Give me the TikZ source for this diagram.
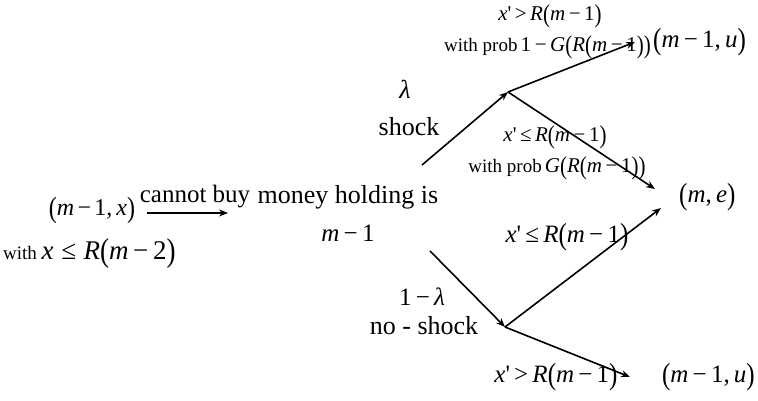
\documentclass[tikz,border=0pt]{standalone}
\usepackage{fontspec}
\usepackage{graphicx}
\setmainfont{Liberation Serif}
\usetikzlibrary{arrows.meta}
\newcommand{\V}[1]{\textit{#1}}
\newcommand{\mn}{\hspace{0.17em}−\hspace{0.17em}}
\newcommand{\LP}{\raisebox{-0.08em}{\scalebox{1}[1.22]{(}}}
\newcommand{\RP}{\raisebox{-0.08em}{\scalebox{1}[1.22]{)}}}
\newcommand{\pr}{\textquotesingle}
\newcommand{\bigfs}{\fontsize{26}{30}\selectfont}
\newcommand{\mth}{\fontsize{25}{29}\selectfont}
\newcommand{\lmth}{\fontsize{21}{25}\selectfont}
\newcommand{\sml}{\fontsize{19}{23}\selectfont}
\begin{document}
\begin{tikzpicture}[x=1pt,y=-1pt,
  txt/.style={inner sep=0pt,font=\bigfs},
  mtxt/.style={inner sep=0pt,font=\mth},
  ltxt/.style={inner sep=0pt,font=\lmth},
  stxt/.style={inner sep=0pt,font=\sml},
  br/.style={line width=1.6pt,-{Stealth[length=9pt,width=7pt]}}]
\useasboundingbox (0,0) rectangle (758,401);
% left
\node[inner sep=0pt,font=\fontsize{24}{28}\selectfont] (st) at (92,210) {\LP\V{m}\hspace{0.14em}−\hspace{0.14em}1,\,\V{x}\RP};
\node[stxt,anchor=west] (stc) at (3,254) {with\ \fontsize{27}{31}\selectfont\V{x}\hspace{0.28em}≤\hspace{0.28em}\V{R}\LP\V{m}\mn 2\RP};
\node[txt,anchor=base,font=\fontsize{25}{29}\selectfont] (cb) at (195,203) {cannot buy};
\coordinate (ha) at (147,213);
\coordinate (hb) at (228,213);
\draw[br,line width=1.2pt] (ha) -- (hb);
% middle
\node[txt,anchor=base] (mh) at (348,204) {money holding is};
\node[mtxt] (m1) at (348,233) {\V{m}\mn 1};
\node[txt] (lam) at (405,89) {\V{λ}};
\node[txt] (sh) at (409,127) {shock};
\node[mtxt] (oml) at (422,297) {1\mn\V{λ}};
\node[txt] (ns) at (424,326) {no - shock};
% forks
\coordinate (c1) at (422,165);
\coordinate (f1) at (508,92);
\coordinate (c2) at (430,251);
\coordinate (f2) at (505,327);
\coordinate (t1) at (635,42);
\coordinate (t2) at (655,189);
\coordinate (t3) at (661,208);
\coordinate (t4) at (630,377);
\draw[br] (c1) -- (f1);
\draw[br] (f1) -- (t1);
\draw[br] (f1) -- (t2);
\draw[br] (c2) -- (f2);
\draw[br] (f2) -- (t3);
\draw[br] (f2) -- (t4);
% labels
\node[ltxt] (l1) at (550,16) {\V{x}\pr\,>\,\V{R}\LP\V{m}\mn 1\RP};
\node[stxt,anchor=east] (l2) at (651,47) {with prob\,\lmth 1\mn\V{G}\LP\V{R}\LP\V{m}\mn 1\RP\RP};
\node[mtxt,anchor=west] (o1) at (653,42) {\LP\V{m}\mn 1,\,\V{u}\RP};
\node[ltxt] (l3) at (555,137) {\V{x}\pr\,≤\,\V{R}\LP\V{m}\mn 1\RP};
\node[stxt] (l4) at (557,168) {with prob\,\lmth\V{G}\LP\V{R}\LP\V{m}\mn 1\RP\RP};
\node[mtxt,anchor=west] (o2) at (679,197) {\LP\V{m},\,\V{e}\RP};
\node[mtxt] (l5) at (567,237) {\V{x}\pr\,≤\,\V{R}\LP\V{m}\mn 1\RP};
\node[mtxt] (l6) at (556,377) {\V{x}\pr\,>\,\V{R}\LP\V{m}\mn 1\RP};
\node[mtxt,anchor=east] (o3) at (755,377) {\LP\V{m}\mn 1,\,\V{u}\RP};
\end{tikzpicture}
\end{document}
